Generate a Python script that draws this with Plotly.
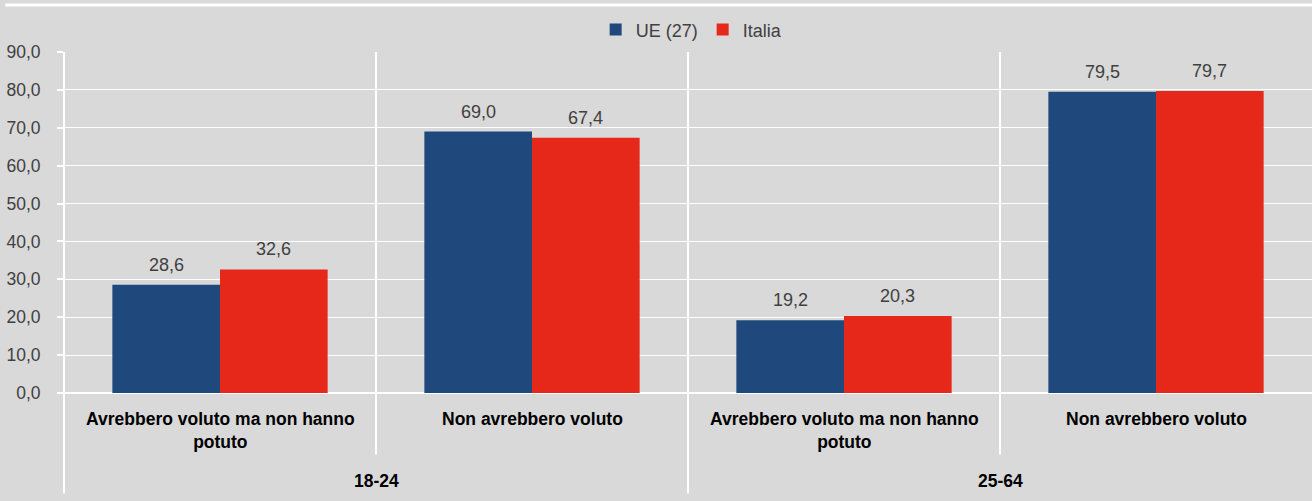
import plotly.graph_objects as go

# Data
groups = ["18-24", "18-24", "25-64", "25-64"]
categories = [
    "Avrebbero voluto ma non hanno potuto",
    "Non avrebbero voluto",
    "Avrebbero voluto ma non hanno potuto",
    "Non avrebbero voluto",
]
ue_values = [28.6, 69.0, 19.2, 79.5]
italia_values = [32.6, 67.4, 20.3, 79.7]
y_ticks = [0, 10, 20, 30, 40, 50, 60, 70, 80, 90]

BG = "#D9D9D9"
BLUE = "#1F497D"
RED = "#E6281A"
GREY_TXT = "#404040"
FONT = "Liberation Sans, Arial, sans-serif"

W, H = 1312, 501
M_L, M_R, M_T, M_B = 64, 0, 52, 108
BARGAP = 0.31


def wrap(label, width=30):
    words, lines, cur = label.split(), [], ""
    for w in words:
        if cur and len(cur) + 1 + len(w) > width:
            lines.append(cur)
            cur = w
        else:
            cur = f"{cur} {w}".strip()
    lines.append(cur)
    return "<br>".join(lines)


x = [groups, categories]
series = [("UE (27)", ue_values, BLUE), ("Italia", italia_values, RED)]

fig = go.Figure()
for name, vals, color in series:
    fig.add_trace(
        go.Bar(
            x=x,
            y=vals,
            name=name,
            marker=dict(color=color, line=dict(width=0)),
        )
    )

# value labels, lifted a bit more than plotly's default outside text
n = len(categories)
cat_px = (W - M_L - M_R) / n
bar_px = cat_px * (1 - BARGAP) / len(series)
for s, (name, vals, color) in enumerate(series):
    off = (s - (len(series) - 1) / 2) * bar_px
    for i, v in enumerate(vals):
        fig.add_annotation(
            x=i, y=v, xref="x", yref="y", xshift=off, yshift=8,
            text=f"{v:.1f}".replace(".", ","), showarrow=False, yanchor="bottom",
            font=dict(size=18, color=GREY_TXT, family=FONT),
        )

# category labels and separators below the axis
for i, c in enumerate(categories):
    fig.add_annotation(
        x=i, y=0, xref="x", yref="paper", yshift=-14,
        text=f"<b>{wrap(c)}</b>", showarrow=False, yanchor="top",
        font=dict(size=17.5, color="black", family=FONT), align="center",
    )
seen = []
for g in groups:
    if g not in seen:
        seen.append(g)
for g in seen:
    idx = [i for i, gg in enumerate(groups) if gg == g]
    fig.add_annotation(
        x=sum(idx) / len(idx), y=0, xref="x", yref="paper", yshift=-76,
        text=f"<b>{g}</b>", showarrow=False, yanchor="top",
        font=dict(size=17.5, color="black", family=FONT),
    )

for i in range(n - 1):
    is_group_edge = groups[i] != groups[i + 1]
    fig.add_shape(
        type="line", xref="x", yref="paper",
        x0=i + 0.5, x1=i + 0.5, y0=1, y1=-0.295 if is_group_edge else -0.18,
        line=dict(color="white", width=2),
        layer="below",
    )
fig.add_shape(
    type="line", xref="paper", yref="paper", x0=0, x1=0, y0=1, y1=-0.295,
    line=dict(color="white", width=2), layer="below",
)
# top white rule
fig.add_shape(
    type="line", xref="paper", yref="paper", x0=-0.047, x1=1, y0=1.138, y1=1.138,
    line=dict(color="white", width=3),
)

fig.update_layout(
    width=W,
    height=H,
    paper_bgcolor=BG,
    plot_bgcolor=BG,
    separators=",.",
    barmode="group",
    bargap=BARGAP,
    bargroupgap=0,
    font=dict(family=FONT, size=17, color=GREY_TXT),
    margin=dict(l=M_L, r=M_R, t=M_T, b=M_B, autoexpand=False),
    showlegend=True,
    legend=dict(
        orientation="h", x=0.426, xanchor="left", y=1.065, yanchor="middle",
        font=dict(size=18, color=GREY_TXT), bgcolor="rgba(0,0,0,0)",
        itemwidth=30, traceorder="normal",
    ),
    xaxis=dict(
        type="multicategory",
        showgrid=False,
        showline=False,
        ticks="",
        showdividers=False,
        showticklabels=False,
        automargin=False,
    ),
    yaxis=dict(
        range=[0, 90],
        tickvals=y_ticks,
        tickformat=".1f",
        showgrid=True,
        gridcolor="white",
        gridwidth=1,
        zeroline=True,
        zerolinecolor="white",
        zerolinewidth=2,
        ticks="outside",
        ticklen=6,
        tickcolor="white",
        tickwidth=2,
        ticklabelstandoff=13,
        automargin=False,
        tickfont=dict(size=17.5, color=GREY_TXT, family=FONT),
    ),
)

fig.write_html(
    "out.html",
    config={"displayModeBar": False},
    post_script="document.body.style.margin='0';",
)
